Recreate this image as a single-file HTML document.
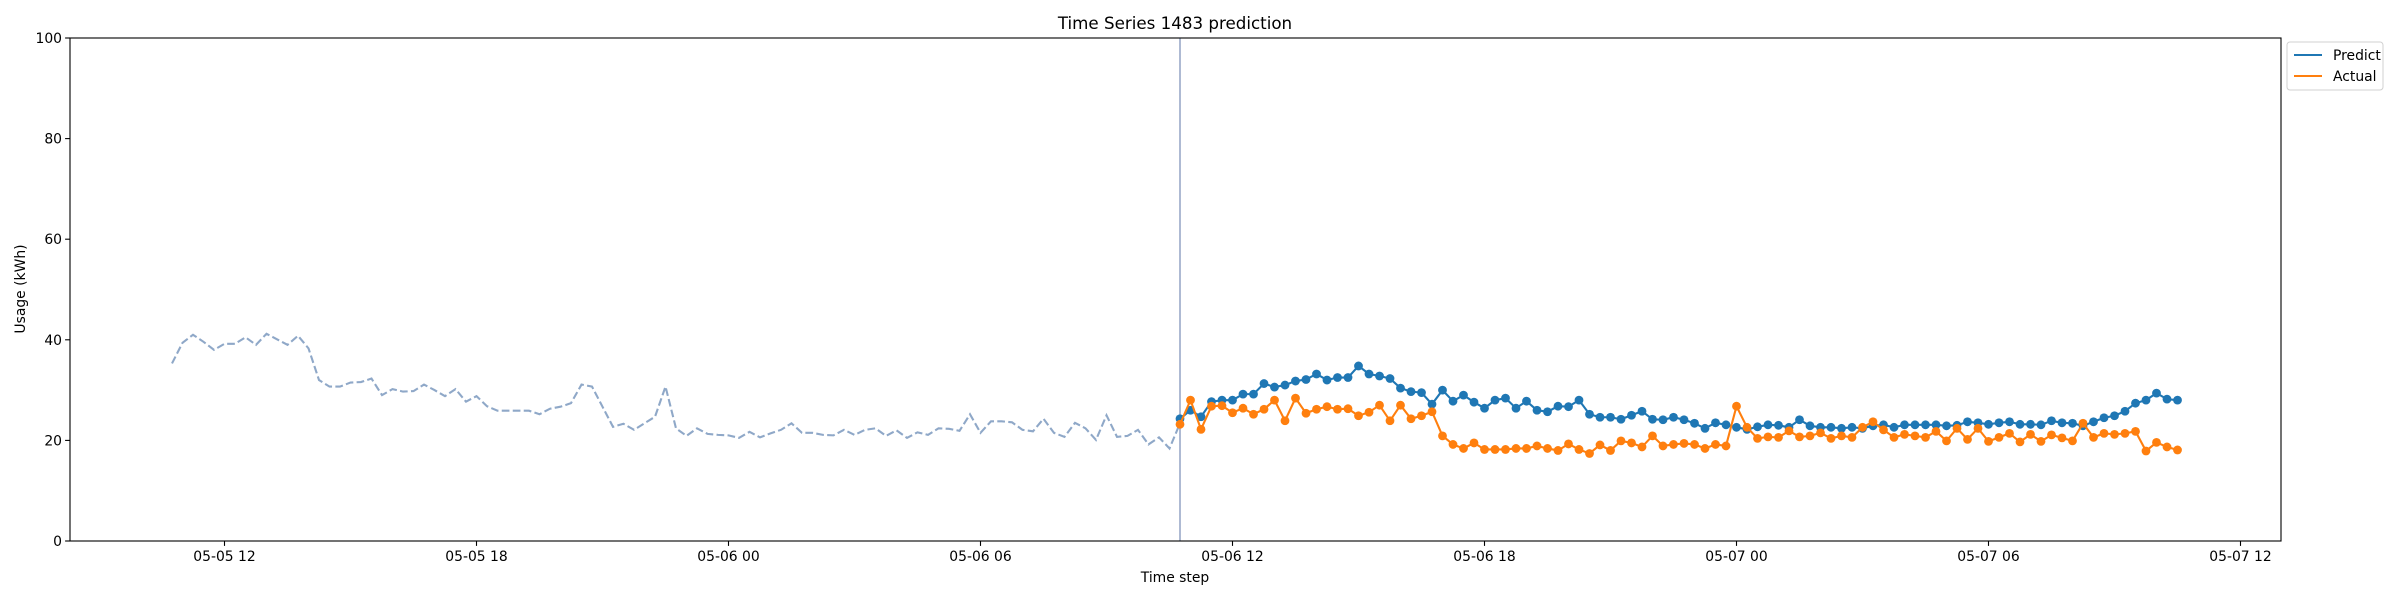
<!DOCTYPE html>
<html><head><meta charset="utf-8"><style>
html,body{margin:0;padding:0;background:#fff;}
svg{display:block;font-family:"DejaVu Sans","Liberation Sans",sans-serif;}
</style></head><body>
<svg id="chart" width="2400" height="600" viewBox="0 0 2400 600" xmlns="http://www.w3.org/2000/svg">
<rect width="2400" height="600" fill="#fff"/>
<text x="1175" y="29" font-size="16.7" text-anchor="middle">Time Series 1483 prediction</text>
<text x="1175" y="582" font-size="13.9" text-anchor="middle">Time step</text>
<text x="0" y="0" font-size="13.9" text-anchor="middle" transform="translate(25,289) rotate(-90)">Usage (kWh)</text>
<g id="plot"></g>
<g>
<rect x="2287" y="42" width="96" height="48" rx="3" fill="#fff" stroke="#d0d0d0" stroke-width="1"/>
<g><line x1="2294" y1="55" x2="2322" y2="55" stroke="#1f77b4" stroke-width="2.1"/><text x="2333" y="60" font-size="13.9">Predict</text></g>
<g><line x1="2294" y1="76" x2="2322" y2="76" stroke="#ff7f0e" stroke-width="2.1"/><text x="2333" y="81" font-size="13.9">Actual</text></g>
</g>
</svg>
<script>
const historyValues = [35.3,39.4,41.0,39.6,38.0,39.2,39.2,40.5,39.0,41.2,40.1,39.0,40.8,38.3,32.0,30.7,30.7,31.5,31.6,32.3,29.0,30.2,29.7,29.8,31.1,30.0,28.8,30.2,27.7,28.8,26.8,25.9,25.9,25.9,25.9,25.2,26.3,26.7,27.4,31.1,30.7,26.7,22.7,23.3,22.1,23.4,24.7,30.7,22.4,20.9,22.4,21.3,21.1,21.0,20.5,21.7,20.6,21.4,22.1,23.4,21.5,21.5,21.1,21.0,22.1,21.1,22.1,22.4,20.9,22.0,20.5,21.6,21.1,22.4,22.3,21.9,25.2,21.5,23.8,23.8,23.6,22.1,21.8,24.3,21.5,20.7,23.5,22.4,20.1,25.0,20.7,20.9,22.1,19.2,20.6,18.4,23.4];
const predictValues = [24.3,26.0,24.7,27.7,28.0,28.0,29.2,29.2,31.3,30.6,31.0,31.8,32.1,33.2,32.0,32.5,32.5,34.8,33.2,32.8,32.3,30.4,29.7,29.5,27.2,30.0,27.8,29.0,27.6,26.4,28.0,28.4,26.4,27.8,26.0,25.7,26.8,26.7,28.0,25.2,24.6,24.6,24.2,25.0,25.8,24.2,24.1,24.6,24.1,23.4,22.4,23.5,23.1,22.6,22.2,22.7,23.1,23.0,22.6,24.1,22.9,22.6,22.6,22.4,22.6,22.4,22.9,23.1,22.6,23.1,23.1,23.1,23.1,22.9,23.0,23.7,23.5,23.2,23.5,23.7,23.2,23.2,23.1,23.9,23.5,23.4,22.9,23.7,24.5,24.9,25.8,27.4,28.0,29.4,28.2,28.0];
const actualValues = [23.2,28.0,22.2,26.8,26.9,25.5,26.4,25.2,26.2,28.0,23.9,28.4,25.4,26.2,26.7,26.2,26.3,24.9,25.6,27.0,23.9,27.0,24.3,24.9,25.7,20.9,19.2,18.4,19.5,18.2,18.2,18.2,18.4,18.4,18.9,18.4,18.0,19.3,18.2,17.4,19.1,18.0,19.9,19.5,18.7,20.9,18.9,19.2,19.4,19.2,18.4,19.2,18.9,26.8,22.6,20.4,20.7,20.6,21.9,20.7,20.9,21.5,20.4,20.9,20.6,22.6,23.7,22.1,20.6,21.2,20.9,20.6,21.8,19.9,22.4,20.2,22.4,19.8,20.6,21.4,19.7,21.2,19.8,21.1,20.5,19.9,23.4,20.6,21.4,21.2,21.4,21.8,17.9,19.6,18.7,18.1];
const yTicks = [0,20,40,60,80,100];
const xTickLabels = ["05-05 12","05-05 18","05-06 00","05-06 06","05-06 12","05-06 18","05-07 00","05-07 06","05-07 12"];
const xTickHours = [12,18,24,30,36,42,48,54,60];
const historyStartHour = 10.75;
const predictStartHour = 34.75;
const stepHours = 0.25;

const X0=70, X1=2281, Y0=541, Y1=38;
function xs(h){ return 224.5 + (h-12)*42; }
function ys(v){ return Y0 - (v/100)*(Y0-Y1); }
const NS="http://www.w3.org/2000/svg";
const plot=document.getElementById('plot');
function mk(tag,attrs,parent){const e=document.createElementNS(NS,tag);for(const k in attrs)e.setAttribute(k,attrs[k]);(parent||plot).appendChild(e);return e;}

// y ticks
yTicks.forEach(v=>{
  const g=mk('g',{});
  
  
  mk('line',{x1:X0-4.9,x2:X0,y1:ys(v),y2:ys(v),stroke:'#000','stroke-width':1.1},g);
  const t=mk('text',{x:X0-8,y:ys(v)+5,'font-size':13.9,'text-anchor':'end'},g);
  t.textContent=v;
});
xTickLabels.forEach((lab,i)=>{
  const g=mk('g',{});
  
  
  const x=xs(xTickHours[i]);
  mk('line',{x1:x,x2:x,y1:Y0,y2:Y0+4.9,stroke:'#000','stroke-width':1.1},g);
  const t=mk('text',{x:x,y:Y0+20,'font-size':13.9,'text-anchor':'middle'},g);
  t.textContent=lab;
});

function pts(vals,start){return vals.map((v,i)=>[xs(start+i*stepHours),ys(v)]);}
// history
const hp=pts(historyValues,historyStartHour);
const hl=mk('polyline',{points:hp.map(p=>p.join(',')).join(' '),fill:'none',stroke:'#8fa8c8','stroke-width':2.1,'stroke-dasharray':'7.7,3.3'});


// vertical line
const vx=xs(predictStartHour);
const vl=mk('line',{x1:vx,x2:vx,y1:Y1,y2:Y0,stroke:'#9aa8c8','stroke-width':1.6});



function series(vals,color,name){
  const p=pts(vals,predictStartHour);
  const g=mk('g',{});
  
  
  mk('polyline',{points:p.map(q=>q.join(',')).join(' '),fill:'none',stroke:color,'stroke-width':2.1},g);
  p.forEach(q=>{
    const c=mk('circle',{cx:q[0],cy:q[1],r:4.4,fill:color},g);
    
    
  });
}
series(predictValues,'#1f77b4','predict');
series(actualValues,'#ff7f0e','actual');

// frame
const fr=mk('rect',{x:X0,y:Y1,width:X1-X0,height:Y0-Y1,fill:'none',stroke:'#000','stroke-width':1.1});


</script>
</body></html>
